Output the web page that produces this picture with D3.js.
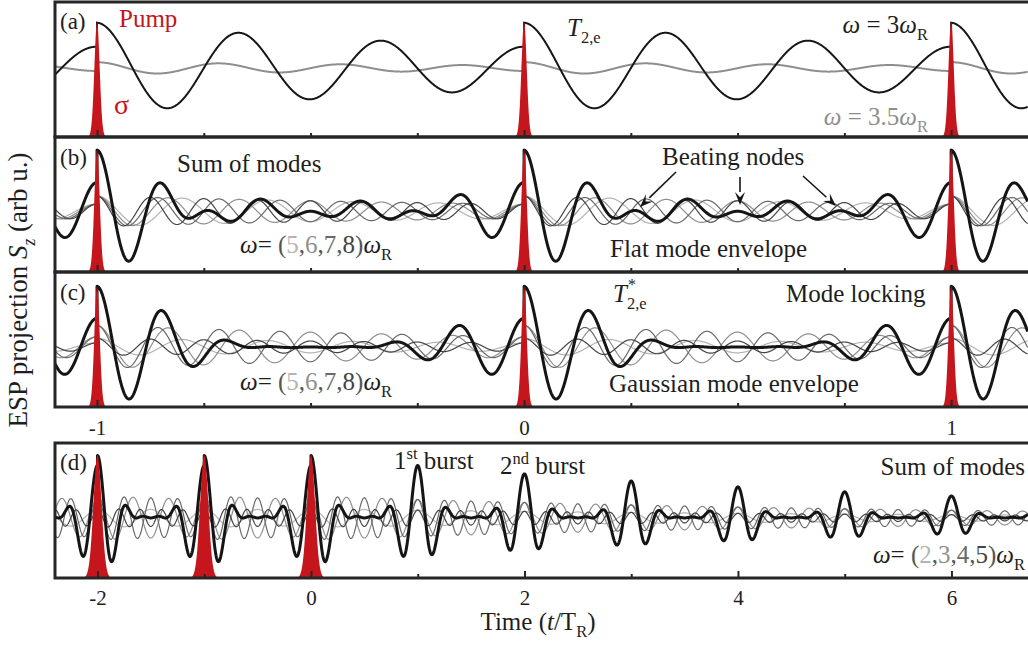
<!DOCTYPE html>
<html>
<head>
<meta charset="utf-8">
<script src="https://cdn.jsdelivr.net/npm/d3@7"></script>
<style>
  body { margin: 0; background: #fff; }
  text { font-family: "Liberation Serif", "DejaVu Serif", serif; fill: #1e1e1e; }
</style>
</head>
<body>
<div id="chart"></div>
<script>
var width = 1028;
var height = 646;

// time axis ticks
var ticksTop = [-1, 0, 1];
var minorTop = [-0.75, -0.5, -0.25, 0.25, 0.5, 0.75];
var ticksD = [-2, 0, 2, 4, 6];
var minorD = [-1, 1, 3, 5];

// pump pulse times (T_R units)
var pumpTop = [-1, 0, 1];
var pumpD = [-2, -1, 0];

// panel (a): single modes
var freqA = [3, 3.5];
var ampA = [0.357, 0.13];
var colorA = ["#161616", "#8e8e8e"];
var decayA = 0.47;          // amplitude left after one T_R
var pumpPeakA = 0.70;

// panel (b): flat envelope, panel (c): gaussian envelope
var freqBC = [5, 6, 7, 8];
var ampB = [0.12, 0.12, 0.12, 0.12];
var ampC = [0.068, 0.17, 0.17, 0.068];
var decayBC = 0.47;
var pumpPeakB = 0.81;
var pumpPeakC = 0.79;

// panel (d): modes 2..5, pumping stops at t = 0
var freqD = [2, 3, 4, 5];
var ampD = [0.022, 0.052, 0.052, 0.022];
var decayD = 0.84;
var pumpPeakD = 0.82;

var modeColors = ["#b4b4b4", "#8f8f8f", "#696969", "#444444"];
var red = "#c4161c";

var svg = d3.select("#chart").append("svg")
    .attr("width", width)
    .attr("height", height);

var xTop = d3.scaleLinear().domain([-1.0984, 1.18]).range([55, 1028]);
var xD = d3.scaleLinear().domain([-2.398, 6.717]).range([55, 1028]);

var panels = [
    { id: "a", top: 2, bottom: 137, x: xTop, base: 0.02 },
    { id: "b", top: 137, bottom: 272, x: xTop, base: -0.1 },
    { id: "c", top: 272, bottom: 407, x: xTop, base: -0.11 },
    { id: "d", top: 443, bottom: 578, x: xD, base: -0.11 }
];
panels.forEach(function (p) {
    p.y = d3.scaleLinear().domain([-1, 1]).range([p.bottom, p.top]);
});

/**
 * One mode driven by a pulse train (steady state, earlier pulses included).
 */
function modeValue(t, f, a, q, pumps) {
    var s = 0;
    for (var k = 0; k < pumps.length; k++) {
        var tn = pumps[k];
        if (tn > t) continue;
        var tau = t - tn;
        s += a * Math.pow(q, tau) * Math.cos(2 * Math.PI * f * tau);
    }
    return s;
}

function allPumps(pumps) {
    return d3.range(pumps[0] - 40, pumps[0]).concat(pumps);
}

function sampleTimes(x, step, pumps) {
    var d = x.domain();
    var ts = d3.range(d[0], d[1], step);
    pumps.forEach(function (tn) { ts.push(tn - 1e-6); ts.push(tn); });
    return ts.sort(d3.ascending);
}

function clipFor(p) {
    var id = "clip-" + p.id;
    svg.append("clipPath").attr("id", id)
        .append("rect")
        .attr("x", 55).attr("y", p.top)
        .attr("width", width - 55).attr("height", p.bottom - p.top);
    return "url(#" + id + ")";
}

function drawModes(p, freqs, amps, q, pumps, colors, widths, withSum, step) {
    var g = svg.append("g").attr("clip-path", clipFor(p));
    var ps = allPumps(pumps);
    var ts = sampleTimes(p.x, step, pumps);
    var line = d3.line()
        .x(function (d) { return p.x(d[0]); })
        .y(function (d) { return p.y(p.base + d[1]); });
    var series = freqs.map(function (f, i) {
        return ts.map(function (t) { return [t, modeValue(t, f, amps[i], q, ps)]; });
    });
    series.forEach(function (s, i) {
        g.append("path").datum(s)
            .attr("d", line)
            .attr("fill", "none")
            .attr("stroke", colors[i])
            .attr("stroke-width", widths[i]);
    });
    if (withSum) {
        var sum = ts.map(function (t, j) {
            return [t, d3.sum(series, function (s) { return s[j][1]; })];
        });
        g.append("path").datum(sum)
            .attr("d", line)
            .attr("fill", "none")
            .attr("stroke", "#151515")
            .attr("stroke-width", 3)
            .attr("stroke-linejoin", "round");
    }
    return g;
}

function drawPumps(g, p, pumps, peak, sigma) {
    var area = d3.area()
        .x(function (d) { return p.x(d); })
        .y0(p.y(-1) + 2);
    pumps.forEach(function (tn) {
        var ts = d3.range(-3.6, 3.61, 0.1).map(function (k) { return tn + k * sigma; });
        area.y1(function (t) {
            var u = (t - tn) / sigma;
            return p.y(-1 + (peak + 1) * Math.exp(-u * u / 2));
        });
        g.append("path").datum(ts)
            .attr("d", area)
            .attr("fill", red);
    });
}

function drawFrame(p, major, minor, labels, padding) {
    var g = svg.append("g");
    var axMajor = d3.axisBottom(p.x).tickValues(major).tickSize(-7)
        .tickPadding(padding)
        .tickFormat(function (d) { return labels ? (d < 0 ? "-" + Math.abs(d) : String(d)) : ""; });
    var axMinor = d3.axisBottom(p.x).tickValues(minor).tickSize(-4).tickFormat("");
    [axMajor, axMinor].forEach(function (ax) {
        var a = g.append("g").attr("transform", "translate(0," + p.bottom + ")").call(ax);
        a.select(".domain").remove();
        a.selectAll("line").attr("stroke", "#262626").attr("stroke-width", 2);
        a.selectAll("text")
            .attr("font-size", 21)
            .attr("font-family", "Liberation Serif")
            .attr("fill", "#1e1e1e");
    });
    g.append("path")
        .attr("d", "M" + (width + 5) + "," + p.top + "H55V" + p.bottom + "H" + (width + 5))
        .attr("fill", "none")
        .attr("stroke", "#262626")
        .attr("stroke-width", 3);
}

/**
 * Writes text made of parts: {t, i (italic), sub, sup, c (colour)}.
 */
function addText(x, y, parts, size, anchor, color) {
    var t = svg.append("text")
        .attr("x", x).attr("y", y)
        .attr("font-size", size)
        .attr("text-anchor", anchor || "start");
    if (color) t.style("fill", color);
    var shift = 0;
    parts.forEach(function (p) {
        if (typeof p === "string") p = { t: p };
        var s = t.append("tspan").text(p.t);
        var target = p.sub ? size * 0.28 : (p.sup ? -size * 0.42 : 0);
        s.attr("dy", target - shift);
        shift = target;
        if (p.sub || p.sup) s.attr("font-size", size * 0.66);
        if (p.i) s.attr("font-style", "italic");
        if (p.c) s.style("fill", p.c);
    });
    return t;
}

function arrow(x1, y1, x2, y2) {
    var ang = Math.atan2(y2 - y1, x2 - x1);
    var L = 13, w = 5;
    var bx = x2 - L * Math.cos(ang), by = y2 - L * Math.sin(ang);
    svg.append("line")
        .attr("x1", x1).attr("y1", y1).attr("x2", bx).attr("y2", by)
        .attr("stroke", "#151515").attr("stroke-width", 1.6);
    var nx = -Math.sin(ang) * w, ny = Math.cos(ang) * w;
    svg.append("path")
        .attr("d", "M" + x2 + "," + y2 + "L" + (bx + nx) + "," + (by + ny) +
            "L" + (x2 - 0.6 * L * Math.cos(ang)) + "," + (y2 - 0.6 * L * Math.sin(ang)) +
            "L" + (bx - nx) + "," + (by - ny) + "Z")
        .attr("fill", "#151515");
}

// ---- panel (a)
var pa = panels[0];
var ga = drawModes(pa, [freqA[1], freqA[0]], [ampA[1], ampA[0]], decayA, pumpTop,
    [colorA[1], colorA[0]], [2, 2], false, 0.0008);
drawPumps(ga, pa, pumpTop, pumpPeakA, 0.0062);
drawFrame(pa, ticksTop, minorTop, false, 0);

// ---- panel (b)
var pb = panels[1];
var gb = drawModes(pb, freqBC, ampB, decayBC, pumpTop, modeColors,
    [1.2, 1.2, 1.2, 1.2], true, 0.0008);
drawPumps(gb, pb, pumpTop, pumpPeakB, 0.0062);
drawFrame(pb, ticksTop, minorTop, false, 0);

// ---- panel (c)
var pc = panels[2];
var gc = drawModes(pc, freqBC, ampC, decayBC, pumpTop, modeColors,
    [1.2, 1.2, 1.2, 1.2], true, 0.0008);
drawPumps(gc, pc, pumpTop, pumpPeakC, 0.0062);
drawFrame(pc, ticksTop, minorTop, true, 13);

// ---- panel (d)
var pd = panels[3];
var gd = drawModes(pd, freqD, ampD, decayD, pumpD, modeColors,
    [1.2, 1.2, 1.2, 1.2], true, 0.003);
drawPumps(gd, pd, pumpD, pumpPeakD, 0.038);
drawFrame(pd, ticksD, minorD, true, 12);

// ---- labels
var fs = 25;
addText(60, 29, ["(a)"], 23);
addText(60, 165, ["(b)"], 23);
addText(60, 300, ["(c)"], 23);
addText(60, 470, ["(d)"], 23);

addText(119, 27, ["Pump"], 25, "start", red);
addText(114, 114, ["σ"], 28, "start", red);
addText(567, 36, [{ t: "T", i: true }, { t: "2,e", sub: true }], 25);
addText(928, 33, [{ t: "ω", i: true }, " = 3", { t: "ω", i: true }, { t: "R", sub: true }], fs, "end");
addText(928, 125, [{ t: "ω", i: true }, " = 3.5", { t: "ω", i: true }, { t: "R", sub: true }], fs, "end", "#8e8e8e");

addText(177, 172, ["Sum of modes"], fs);
addText(662, 165, ["Beating nodes"], fs);
addText(610, 257, ["Flat mode envelope"], fs);
function omegaList(x, y, nums, colors, anchor) {
    var parts = [{ t: "ω", i: true }, "= ", { t: "(", c: "#555" }];
    nums.forEach(function (n, i) {
        parts.push({ t: String(n), c: colors[i] });
        if (i < nums.length - 1) parts.push({ t: ",", c: "#555" });
    });
    parts.push({ t: ")", c: "#555" }, { t: "ω", i: true }, { t: "R", sub: true });
    return addText(x, y, parts, fs, anchor);
}
omegaList(240, 253, freqBC, modeColors);
omegaList(240, 390, freqBC, modeColors);
arrow(676, 172, 640, 207);
arrow(740, 177, 740, 205);
arrow(803, 176, 836, 206);

addText(613, 302, [{ t: "T", i: true }, { t: "2,e", sub: true }], 25);
addText(628, 290, ["*"], 16);
addText(786, 302, ["Mode locking"], fs);
addText(609, 392, ["Gaussian mode envelope"], fs);

addText(394, 469, ["1", { t: "st", sup: true }, " burst"], fs);
addText(500, 474, ["2", { t: "nd", sup: true }, " burst"], fs);
addText(1025, 475, ["Sum of modes"], fs, "end");
omegaList(1025, 563, freqD, modeColors, "end");

// axis titles
addText(538, 630, ["Time (", { t: "t", i: true }, "/T", { t: "R", sub: true }, ")"], fs, "middle");
var yl = addText(0, 0, ["ESP projection ", { t: "S", i: true }, { t: "z", i: true, sub: true }, " (arb u.)"], 27, "middle");
yl.attr("transform", "translate(27,290) rotate(-90)");
</script>
</body>
</html>
